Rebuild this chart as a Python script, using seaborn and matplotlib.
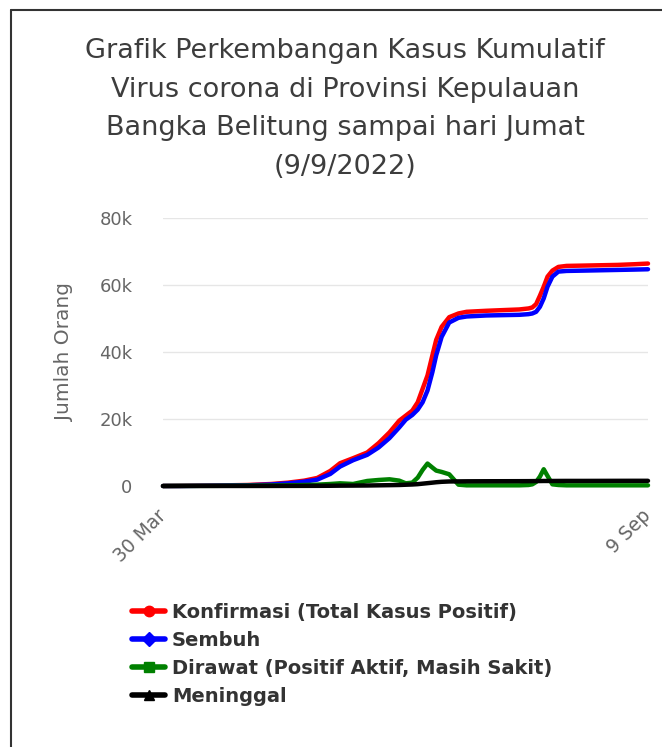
import seaborn as sns
import pandas as pd
import matplotlib
matplotlib.use('Agg')
import matplotlib.pyplot as plt
from matplotlib.lines import Line2D

#-----------------------------------------------------------------------------------------------------------------------
"""Data read off the chart (values in thousands of people)"""
tanggal = ['2020-03-30', '2020-05-01', '2020-07-01', '2020-09-01', '2020-10-15', '2020-11-15', '2020-12-15',
           '2021-01-08', '2021-02-01', '2021-02-19', '2021-03-15', '2021-04-10', '2021-05-01', '2021-05-21',
           '2021-06-08', '2021-06-20', '2021-07-02', '2021-07-12', '2021-07-21', '2021-07-30', '2021-08-08',
           '2021-08-15', '2021-08-25', '2021-09-08', '2021-09-25', '2021-10-10', '2021-11-15', '2021-12-15',
           '2022-01-15', '2022-02-01', '2022-02-08', '2022-02-15', '2022-02-22', '2022-03-01', '2022-03-08',
           '2022-03-17', '2022-03-28', '2022-04-12', '2022-05-15', '2022-06-15', '2022-07-15', '2022-08-15',
           '2022-09-09']

konfirmasi = [0, 0.04, 0.15, 0.3, 0.6, 1.0, 1.6,
              2.4, 4.5, 6.8, 8.3, 10.0, 12.8, 16.0,
              19.5, 21.0, 22.5, 25.0, 29.0, 33.0, 39.0,
              43.6, 47.5, 50.4, 51.5, 52.0, 52.3, 52.5,
              52.7, 53.0, 53.3, 54.3, 56.8, 59.5, 62.5,
              64.3, 65.4, 65.7, 65.8, 65.9, 66.0, 66.2,
              66.4]

sembuh = [0, 0.01, 0.1, 0.2, 0.45, 0.8, 1.3,
          1.9, 3.6, 5.8, 7.7, 9.3, 11.5, 14.3,
          17.5, 19.8, 21.2, 22.8, 25.0, 28.5, 34.0,
          39.0, 44.5, 48.8, 50.2, 50.6, 50.9, 51.0,
          51.1, 51.3, 51.5, 52.0, 53.5, 56.0, 59.5,
          62.5, 64.0, 64.2, 64.3, 64.4, 64.5, 64.6,
          64.7]

dirawat = [0, 0.03, 0.05, 0.1, 0.15, 0.2, 0.3,
           0.4, 0.6, 0.8, 0.6, 1.5, 1.8, 2.0,
           1.6, 0.8, 1.0, 2.5, 4.8, 6.7, 5.5,
           4.6, 4.2, 3.5, 0.4, 0.2, 0.2, 0.2,
           0.2, 0.3, 0.5, 1.2, 2.8, 5.0, 3.0,
           0.5, 0.3, 0.2, 0.2, 0.2, 0.2, 0.2,
           0.2]

meninggal = [0, 0.0, 0.01, 0.01, 0.02, 0.03, 0.04,
             0.05, 0.07, 0.1, 0.12, 0.15, 0.2, 0.25,
             0.3, 0.38, 0.45, 0.55, 0.7, 0.85, 1.0,
             1.12, 1.25, 1.35, 1.38, 1.4, 1.42, 1.43,
             1.44, 1.45, 1.46, 1.47, 1.48, 1.5, 1.5,
             1.5, 1.51, 1.52, 1.52, 1.53, 1.54, 1.55,
             1.55]

seri = ['Konfirmasi (Total Kasus Positif)', 'Sembuh', 'Dirawat (Positif Aktif, Masih Sakit)', 'Meninggal']
warna = ['#ff0000', '#0000ff', '#008000', '#000000']
penanda = ['o', 'D', 's', '^']

ytick_vals = [0, 20000, 40000, 60000, 80000]
ytick_labels = ['0', '20k', '40k', '60k', '80k']
xtick_dates = ['2020-03-30', '2022-09-09']
xtick_labels = ['30 Mar', '9 Sep']

#-----------------------------------------------------------------------------------------------------------------------
"""Long DataFrame for seaborn"""
frames = []
for nama, nilai in zip(seri, [konfirmasi, sembuh, dirawat, meninggal]):
    frames.append(pd.DataFrame({'Tanggal': pd.to_datetime(tanggal),
                                'Jumlah': [v * 1000 for v in nilai],
                                'Status': nama}))
df = pd.concat(frames, ignore_index=True)

#-----------------------------------------------------------------------------------------------------------------------
"""Figure"""
sns.set_style('white')
plt.rcParams['font.family'] = ['DejaVu Sans']

fig = plt.figure(figsize=(6.62, 7.47), dpi=100)
fig.patch.set_facecolor('white')
ax = fig.add_axes([163 / 662, 1 - 486 / 747, 485 / 662, 268 / 747])

# thin frame on top and left like the screenshot
fig.add_artist(Line2D([11 / 662, 11 / 662], [0, 1 - 10 / 747], transform=fig.transFigure, color='#333333', lw=1.5))
fig.add_artist(Line2D([11 / 662, 1], [1 - 10 / 747, 1 - 10 / 747], transform=fig.transFigure, color='#333333', lw=1.5))

#-----------------------------------------------------------------------------------------------------------------------
"""Lines"""
sns.lineplot(data=df, x='Tanggal', y='Jumlah', hue='Status', hue_order=seri, palette=warna,
             linewidth=3.2, legend=False, ax=ax)
for line in ax.get_lines():
    line.set_clip_on(False)
    line.set_solid_capstyle('round')
    line.set_solid_joinstyle('round')

#-----------------------------------------------------------------------------------------------------------------------
"""Axes styling"""
ax.set_ylim(0, 80000)
ax.set_xlim(pd.to_datetime(xtick_dates[0]), pd.to_datetime(xtick_dates[1]))
ax.set_yticks(ytick_vals)
ax.set_yticklabels(ytick_labels)
ax.set_xticks(pd.to_datetime(xtick_dates))
ax.set_xticklabels(xtick_labels, rotation=45, ha='right', va='center', rotation_mode='anchor')

for s in ax.spines.values():
    s.set_visible(False)
ax.grid(True, axis='y', color='#e6e6e6', linewidth=1)
ax.grid(False, axis='x')
ax.set_axisbelow(True)
ax.tick_params(axis='y', length=0, pad=22, labelsize=13, labelcolor='#666666')
ax.tick_params(axis='x', length=0, pad=19.5, labelsize=13.5, labelcolor='#666666')

ax.set_xlabel('')
ax.set_ylabel('Jumlah Orang', fontsize=14.5, color='#666666', labelpad=18.5)

#-----------------------------------------------------------------------------------------------------------------------
"""Title"""
judul = ('Grafik Perkembangan Kasus Kumulatif\nVirus corona di Provinsi Kepulauan\n'
         'Bangka Belitung sampai hari Jumat\n(9/9/2022)')
fig.text(345 / 662, 1 - 38 / 747, judul, ha='center', va='top', fontsize=19.5, color='#3d3d3d', linespacing=1.63)

#-----------------------------------------------------------------------------------------------------------------------
"""Legend"""
handles = [Line2D([0], [0], color=c, lw=4, marker=m, markersize=7.5, markerfacecolor=c, markeredgecolor=c)
           for c, m in zip(warna, penanda)]
leg = fig.legend(handles, seri, loc='upper left', bbox_to_anchor=(132 / 662, 1 - 603 / 747), frameon=False,
                 borderpad=0, borderaxespad=0, handlelength=1.7, handletextpad=0.36, labelspacing=0.46,
                 prop={'weight': 'bold', 'size': 14})
for t in leg.get_texts():
    t.set_color('#333333')

#-----------------------------------------------------------------------------------------------------------------------
"""Save"""
fig.savefig('out.png', dpi=100)
